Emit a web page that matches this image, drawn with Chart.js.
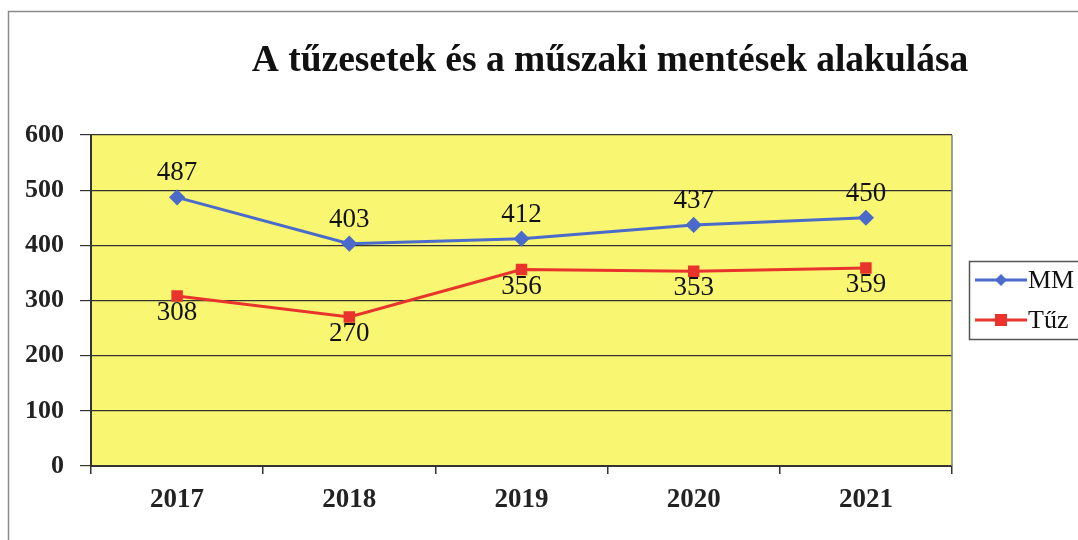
<!DOCTYPE html>
<html>
<head>
<meta charset="utf-8">
<script src="https://cdn.jsdelivr.net/npm/chart.js@4.4.1/dist/chart.umd.min.js"></script>
<style>
html,body{margin:0;padding:0;background:#fff;}
#wrap{width:1078px;height:540px;position:relative;}
</style>
</head>
<body>
<div id="wrap"><canvas id="c" width="1078" height="540"></canvas></div>
<script>
const categories = ['2017', '2018', '2019', '2020', '2021'];
const mmValues = [487, 403, 412, 437, 450];
const tuzValues = [308, 270, 356, 353, 359];
const yTicks = [0, 100, 200, 300, 400, 500, 600];
const titleText = 'A tűzesetek és a műszaki mentések alakulása';
const seriesNames = ['MM', 'Tűz'];

const SERIF = '"Liberation Serif", "Times New Roman", serif';

const framePlugin = {
  id: 'frame',
  beforeDraw(chart) {
    const ctx = chart.ctx, a = chart.chartArea;
    ctx.save();
    ctx.fillStyle = '#ffffff';
    ctx.fillRect(0, 0, chart.width, chart.height);
    ctx.strokeStyle = '#8a8a8a';
    ctx.lineWidth = 1.5;
    ctx.beginPath();
    ctx.moveTo(8.5, 545);
    ctx.lineTo(8.5, 11.5);
    ctx.lineTo(1085, 11.5);
    ctx.stroke();
    ctx.fillStyle = '#f9f771';
    ctx.fillRect(a.left, a.top, a.right - a.left, a.bottom - a.top);
    ctx.restore();
  },
  afterDraw(chart) {
    const ctx = chart.ctx, a = chart.chartArea;
    ctx.save();
    ctx.strokeStyle = '#808080';
    ctx.lineWidth = 1.5;
    ctx.beginPath();
    ctx.moveTo(a.right, a.top);
    ctx.lineTo(a.right, a.bottom);
    ctx.stroke();
    // title
    ctx.fillStyle = '#111';
    ctx.font = 'bold 37.5px ' + SERIF;
    ctx.textAlign = 'center';
    ctx.textBaseline = 'middle';
    ctx.fillText(titleText, 610, 61);
    // data labels
    ctx.font = '27px ' + SERIF;
    ctx.fillStyle = '#111';
    chart.data.datasets.forEach((ds, i) => {
      const meta = chart.getDatasetMeta(i);
      meta.data.forEach((pt, j) => {
        ctx.fillText(String(ds.data[j]), pt.x, pt.y + ds.labelOffset);
      });
    });
    // legend
    const lx = 969, ly = 261, lw = 120, lh = 78;
    ctx.strokeStyle = '#555';
    ctx.lineWidth = 1.5;
    ctx.strokeRect(lx + 0.5, ly + 0.5, lw, lh);
    chart.data.datasets.forEach((ds, i) => {
      const y = ly + 19 + i * 40;
      ctx.strokeStyle = ds.borderColor;
      ctx.lineWidth = 3;
      ctx.beginPath();
      ctx.moveTo(975, y);
      ctx.lineTo(1027, y);
      ctx.stroke();
      ctx.fillStyle = ds.pointBackgroundColor;
      const cx = 1001;
      if (ds.pointStyle === 'rectRot') {
        ctx.beginPath();
        ctx.moveTo(cx, y - 6); ctx.lineTo(cx + 6, y); ctx.lineTo(cx, y + 6); ctx.lineTo(cx - 6, y);
        ctx.closePath(); ctx.fill();
      } else {
        ctx.fillRect(cx - 6, y - 6, 12, 12);
      }
      ctx.fillStyle = '#111';
      ctx.font = '26px ' + SERIF;
      ctx.textAlign = 'left';
      ctx.fillText(ds.label, 1028, y + 1);
    });
    ctx.restore();
  }
};

new Chart(document.getElementById('c'), {
  type: 'line',
  data: {
    labels: categories,
    datasets: [
      {
        label: seriesNames[0],
        data: mmValues,
        borderColor: '#4a6bcc',
        backgroundColor: '#4a6bcc',
        pointBackgroundColor: '#4a6bcc',
        pointBorderColor: '#4a6bcc',
        pointStyle: 'rectRot',
        pointRadius: 6,
        borderWidth: 3,
        tension: 0,
        labelOffset: -24
      },
      {
        label: seriesNames[1],
        data: tuzValues,
        borderColor: '#e8342c',
        backgroundColor: '#e8342c',
        pointBackgroundColor: '#e8342c',
        pointBorderColor: '#e8342c',
        pointStyle: 'rect',
        pointRadius: 6,
        borderWidth: 3,
        tension: 0,
        labelOffset: 17
      }
    ]
  },
  options: {
    responsive: false,
    animation: false,
    devicePixelRatio: 1,
    layout: { padding: { left: 0, right: 126, top: 135, bottom: 0 } },
    plugins: {
      legend: { display: false },
      title: { display: false },
      tooltip: { enabled: false }
    },
    scales: {
      x: {
        offset: true,
        afterFit(scale) { scale.height = 74; },
        grid: {
          offset: true,
          drawOnChartArea: false,
          drawTicks: true,
          tickLength: 8,
          color: '#333',
          lineWidth: 1.5
        },
        border: { color: '#333', width: 2 },
        ticks: {
          color: '#222',
          padding: 10,
          font: { family: SERIF, size: 27, weight: 'bold' }
        }
      },
      y: {
        min: 0,
        max: 600,
        afterFit(scale) { scale.width = 91; },
        afterBuildTicks(scale) { scale.ticks = yTicks.map(v => ({ value: v })); },
        grid: {
          color: '#333',
          lineWidth: 1.2,
          tickLength: 11
        },
        border: { color: '#333', width: 2 },
        ticks: {
          color: '#222',
          padding: 16,
          font: { family: SERIF, size: 26, weight: 'bold' }
        }
      }
    }
  },
  plugins: [framePlugin]
});
</script>
</body>
</html>
